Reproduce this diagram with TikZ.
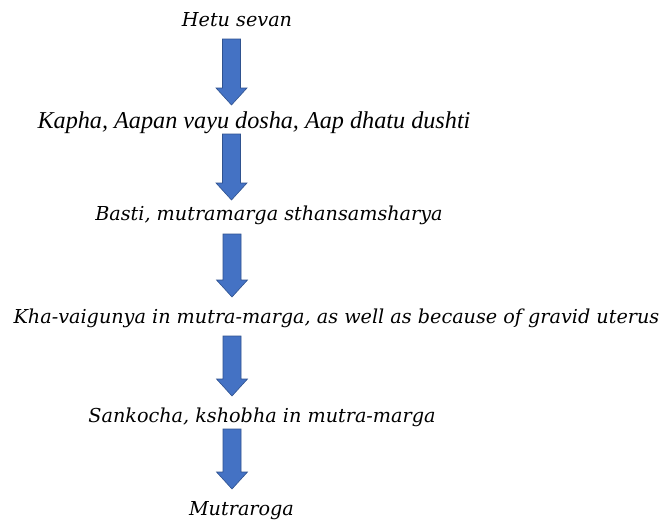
\documentclass[tikz,border=0pt]{standalone}
\usepackage{fontspec}
\setmainfont{DejaVu Serif}
\newfontfamily\timesfont{Liberation Serif}
\definecolor{arrowblue}{HTML}{4472C4}
\definecolor{arrowedge}{HTML}{2F528F}
\tikzset{
  pics/downarrow/.style = {code = {
    \draw[fill=arrowblue, draw=arrowedge, line width=0.6pt, line join=miter]
      (-9,0) -- (9,0) -- (9,#1-17) -- (15.5,#1-17) -- (0,#1)
      -- (-15.5,#1-17) -- (-9,#1-17) -- cycle;
  }}
}
\begin{document}
\begin{tikzpicture}[x=1pt, y=-1pt]
\useasboundingbox[fill=white] (0,0) rectangle (665,522);
\begin{scope}[every node/.style = {anchor=base, inner sep=0pt, font=\fontsize{19.2}{23}\selectfont\itshape}]
\node (hetu) at (237,27) {Hetu sevan};
\node[font=\fontsize{24.2}{28}\selectfont\timesfont\itshape] (kapha) at (254,128) {Kapha, Aapan vayu dosha, Aap dhatu dushti};
\node (basti) at (269,220) {Basti, mutramarga sthansamsharya};
\node (kha) at (336.5,323) {Kha-vaigunya in mutra-marga, as well as because of gravid uterus};
\node (sankocha) at (262,422) {Sankocha, kshobha in mutra-marga};
\node (mutra) at (241.5,515) {Mutraroga};
\end{scope}
\pic at (231.5,39) {downarrow=66};
\pic at (231.5,134) {downarrow=66};
\pic at (232,234) {downarrow=63};
\pic at (232,336) {downarrow=60};
\pic at (232,429) {downarrow=60};
\end{tikzpicture}
\end{document}
